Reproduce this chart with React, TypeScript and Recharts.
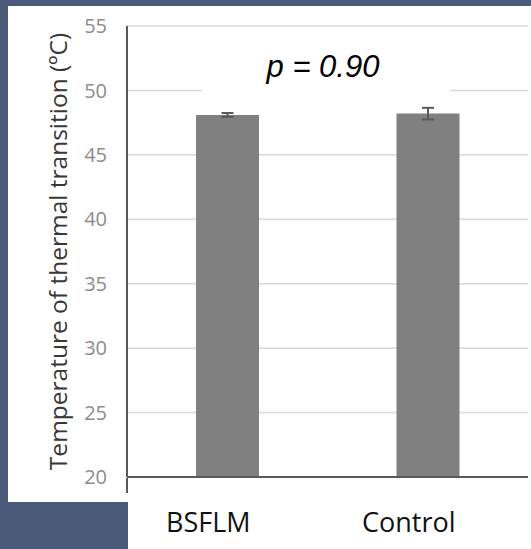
import { Bar, BarChart, CartesianGrid, ErrorBar, XAxis, YAxis } from "recharts";

const categories = ["BSFLM", "Control"];
const meanTemps = [48.1, 48.2];
const errTemps = [0.15, 0.45];
const yTicks = [20, 25, 30, 35, 40, 45, 50, 55];
const edgeTicks = [0, 2];
const pValueText = "p = 0.90";
const yTitle = "Temperature of thermal transition (ºC)";

const data = categories.map((name, i) => ({ name, value: meanTemps[i], err: errTemps[i] }));

const axisGrey = "#595959";

// labels in the source sit a little left of the bar centres
function CategoryTick(props: any) {
  const { x, y, payload } = props;
  return (
    <text x={x} y={y} dx={-19} dy="0.71em" textAnchor="middle" fill="#111" fontSize={27} fontFamily="Open Sans">
      {payload.value}
    </text>
  );
}

export default function App() {
  return (
    <div style={{ position: "absolute", left: 0, top: 0, width: 531, height: 549, background: "#4b5a78" }}>
      {/* white sheet behind the chart */}
      <div style={{ position: "absolute", left: 8, top: 6, width: 121, height: 496, background: "#fff" }} />
      <div style={{ position: "absolute", left: 128, top: 6, width: 403, height: 543, background: "#fff" }} />
      <div style={{ position: "absolute", left: 0, top: 0 }}>
        <BarChart width={531} height={549} data={data} margin={{ top: 26, right: 3, bottom: 70, left: 0 }}>
          <CartesianGrid vertical={false} stroke="#d9d9d9" strokeWidth={1.5} />
          <XAxis
            dataKey="name"
            height={1}
            axisLine={{ stroke: axisGrey, strokeWidth: 2 }}
            tickLine={false}
            tickSize={0}
            tickMargin={36}
            tick={<CategoryTick />}
          />
          <XAxis
            xAxisId="edges"
            type="number"
            domain={[0, 2]}
            ticks={edgeTicks}
            interval={0}
            height={1}
            axisLine={false}
            tickSize={15}
            tickLine={{ stroke: axisGrey, strokeWidth: 2 }}
            tick={() => <g />}
          />
          <YAxis
            domain={[20, 55]}
            ticks={yTicks}
            width={127}
            axisLine={{ stroke: axisGrey, strokeWidth: 2 }}
            tickLine={false}
            tickSize={0}
            tickMargin={20}
            tick={{ fill: "#8c8c8c", fontSize: 20, fontFamily: "Open Sans" }}
            label={{
              value: yTitle,
              angle: -90,
              position: "insideLeft",
              offset: 58,
              style: { textAnchor: "middle", fill: "#383838", fontSize: 24.5, fontFamily: "Open Sans" },
            }}
          />
          <Bar dataKey="value" fill="#808080" barSize={63} isAnimationActive={false}>
            <ErrorBar dataKey="err" width={6} stroke={axisGrey} strokeWidth={2} />
          </Bar>
        </BarChart>
      </div>
      {/* p-value annotation sits on a white box over the 50 gridline */}
      <div
        style={{
          position: "absolute",
          left: 202,
          top: 41,
          width: 248,
          height: 52,
          lineHeight: "52px",
          background: "#fff",
          textAlign: "center",
          fontFamily: "Liberation Sans",
          fontStyle: "italic",
          fontSize: 31,
          color: "#000",
          paddingRight: 6,
          boxSizing: "border-box",
        }}
      >
        {pValueText}
      </div>
    </div>
  );
}
